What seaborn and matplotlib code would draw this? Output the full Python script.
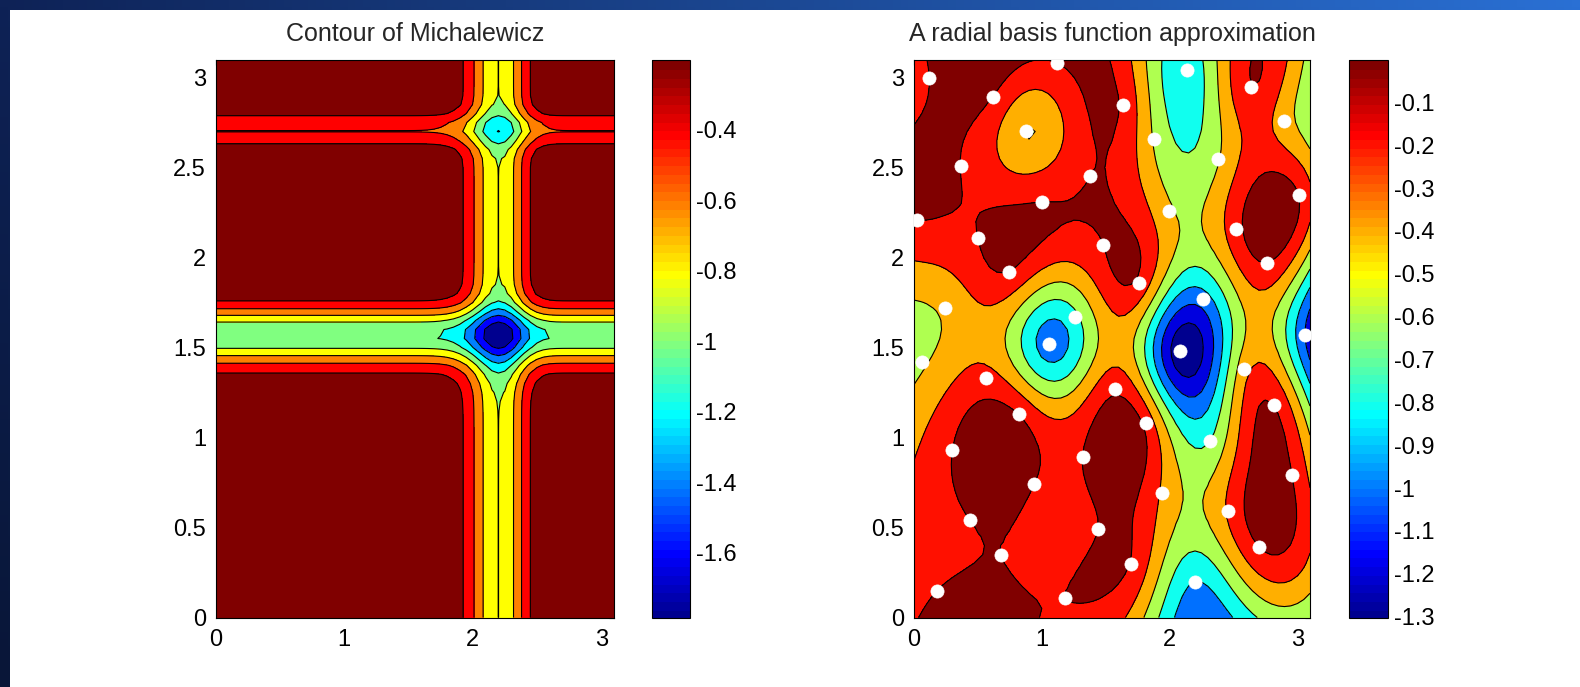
import numpy as np
import matplotlib
matplotlib.use("Agg")
import matplotlib.pyplot as plt
import seaborn as sns
from matplotlib.colors import Normalize, ListedColormap
from matplotlib.cm import ScalarMappable
from matplotlib.patches import Rectangle

sns.set_style("white")
plt.rcParams['font.family'] = ['Liberation Sans', 'DejaVu Sans']
plt.rcParams['axes.unicode_minus'] = False

# ---------------- data ----------------
titles = ["Contour of Michalewicz", "A radial basis function approximation"]
grid_step = 0.05
domain_max = 3.1

# sample sites (white dots)
sample_x = [0.12, 0.62, 1.12, 0.88, 0.37, 1.38, 1.00, 0.02, 0.50, 1.48, 0.74, 0.24, 1.26, 1.06,
            2.14, 2.64, 1.64, 2.90, 1.88, 2.38, 3.01, 2.00, 2.52, 2.76, 1.76, 2.26, 3.06,
            0.06, 0.56, 0.82, 0.30, 1.32, 0.94, 0.44, 1.44, 0.68, 0.18, 1.18,
            2.08, 2.58, 1.57, 2.82, 1.82, 2.32, 2.96, 1.94, 2.46, 2.70, 1.70, 2.20]
sample_y = [3.00, 2.89, 3.08, 2.70, 2.51, 2.45, 2.31, 2.21, 2.11, 2.07, 1.92, 1.72, 1.67, 1.52,
            3.04, 2.95, 2.85, 2.76, 2.66, 2.55, 2.35, 2.26, 2.16, 1.97, 1.86, 1.77, 1.57,
            1.42, 1.33, 1.13, 0.93, 0.89, 0.74, 0.54, 0.49, 0.35, 0.15, 0.11,
            1.48, 1.38, 1.27, 1.18, 1.08, 0.98, 0.79, 0.69, 0.59, 0.39, 0.30, 0.20]

levels_left = [-1.6, -1.4, -1.2, -1.0, -0.8, -0.6, -0.4, -0.2]
levels_right = [-1.2, -1.0, -0.8, -0.6, -0.4, -0.2, 0.0]
cbar_ticks_left = [-0.4, -0.6, -0.8, -1.0, -1.2, -1.4, -1.6]
cbar_ticks_right = [-0.1, -0.2, -0.3, -0.4, -0.5, -0.6, -0.7, -0.8, -0.9, -1.0, -1.1, -1.2, -1.3]
cbar_range_right = (-1.302, 0.0)
axis_xticks = [0, 1, 2, 3]
axis_yticks = [0, 0.5, 1, 1.5, 2, 2.5, 3]
axis_yticklabels = ["0", "0.5", "1", "1.5", "2", "2.5", "3"]


def michalewicz(x, y, m=10):
    return -(np.sin(x) * np.sin(x ** 2 / np.pi) ** (2 * m)
             + np.sin(y) * np.sin(2 * y ** 2 / np.pi) ** (2 * m))


sx = np.array(sample_x)
sy = np.array(sample_y)
sf = michalewicz(sx, sy)

g = np.arange(0, domain_max + 1e-9, grid_step)
GX, GY = np.meshgrid(g, g)
Z1 = michalewicz(GX, GY)

# cubic RBF interpolant with linear tail
n = len(sx)
R = np.hypot(sx[:, None] - sx[None, :], sy[:, None] - sy[None, :])
P = np.column_stack([np.ones(n), sx, sy])
M = np.block([[R ** 3, P], [P.T, np.zeros((3, 3))]])
sol = np.linalg.solve(M, np.concatenate([sf, np.zeros(3)]))
w, c = sol[:n], sol[n:]
RR = np.hypot(GX[..., None] - sx, GY[..., None] - sy)
Z2 = (RR ** 3) @ w + c[0] + c[1] * GX + c[2] * GY


# MATLAB-style jet(64)
def matlab_jet(m=64):
    nq = int(np.ceil(m / 4))
    u = np.concatenate([np.arange(1, nq + 1) / nq, np.ones(nq - 1), np.arange(nq, 0, -1) / nq])
    gi = int(np.ceil(nq / 2)) - (1 if m % 4 == 1 else 0) + np.arange(1, len(u) + 1)
    ri = gi + nq
    bi = gi - nq
    J = np.zeros((m, 3))
    for ch, idx in ((0, ri), (1, gi), (2, bi)):
        ok = (idx >= 1) & (idx <= m)
        J[idx[ok] - 1, ch] = u[ok]
    return ListedColormap(J)


cmap = matlab_jet(64)

# ---------------- figure ----------------
W, H = 1580, 687
fig = plt.figure(figsize=(W / 100, H / 100), dpi=100)

# slide background (blue border top and left)
bg = fig.add_axes([0, 0, 1, 1], zorder=-10)
u = np.linspace(0, 1, 200)[None, :, None]
v = np.linspace(0, 1, 100)[:, None, None]
left_c = np.array([14, 34, 86]) / 255
right_c = np.array([42, 112, 212]) / 255
img = (left_c * (1 - u) + right_c * u) * (1 - 0.35 * v)
bg.imshow(img, extent=[0, 1, 0, 1], aspect='auto', origin='upper')
bg.add_patch(Rectangle((10 / W, 0), 1, 1 - 10 / H, color='white', lw=0))
bg.set_xlim(0, 1); bg.set_ylim(0, 1)
bg.axis('off')

fs = 17


def px_rect(x0, x1, ytop, ybot):
    return [x0 / W, 1 - ybot / H, (x1 - x0) / W, (ybot - ytop) / H]


ax1 = fig.add_axes(px_rect(215.7, 614, 59.5, 617.5))
cax1 = fig.add_axes(px_rect(651.7, 690, 59.5, 617.5))
ax2 = fig.add_axes(px_rect(914, 1310, 59.5, 617.5))
cax2 = fig.add_axes(px_rect(1349, 1388, 59.5, 617.5))


def matlab_contourf(ax, Z, levels, vmin, vmax):
    norm = Normalize(vmin, vmax)
    fill = [min(Z.min(), vmin) - 1] + list(levels) + [Z.max() + 1]
    cols = [cmap(norm(max(l, vmin))) for l in fill[:-1]]
    ax.contourf(GX, GY, Z, levels=fill, colors=cols, antialiased=False)
    ax.contour(GX, GY, Z, levels=levels, colors='k', linewidths=0.8,
               linestyles='solid')
    return norm


def style_axes(ax, title):
    ax.set_xlim(0, domain_max)
    ax.set_ylim(0, domain_max)
    ax.set_xticks(axis_xticks)
    ax.set_xticklabels([str(t) for t in axis_xticks])
    ax.set_yticks(axis_yticks)
    ax.set_yticklabels(axis_yticklabels)
    ax.tick_params(direction='in', length=3.5, width=0.8, top=True, right=True,
                   labelsize=fs, colors='k')
    ax.tick_params(axis='x', pad=8)
    ax.tick_params(axis='y', pad=7)
    for s in ax.spines.values():
        s.set_visible(True)
        s.set_color('k')
        s.set_linewidth(0.8)
    ax.set_title(title, fontsize=fs + 1, pad=13)


def style_cbar(cax, norm, ticks):
    sm = ScalarMappable(norm=norm, cmap=cmap)
    cb = fig.colorbar(sm, cax=cax)
    cb.solids.set_edgecolor("face")
    cb.set_ticks(ticks)
    cb.set_ticklabels([f"{t:g}" for t in ticks])
    cb.outline.set_edgecolor('k')
    cb.outline.set_linewidth(0.8)
    cax.tick_params(direction='in', length=3.5, width=0.8, left=True, right=True,
                    labelsize=fs, colors='k', pad=4)


n1 = matlab_contourf(ax1, Z1, levels_left, Z1.min(), levels_left[-1])
style_axes(ax1, titles[0])
style_cbar(cax1, n1, cbar_ticks_left)

n2 = matlab_contourf(ax2, Z2, levels_right, *cbar_range_right)
sns.scatterplot(x=sx, y=sy, ax=ax2, color='white', s=90, edgecolor='white', linewidth=0.5,
                legend=False, zorder=5, clip_on=True)
style_axes(ax2, titles[1])
style_cbar(cax2, n2, cbar_ticks_right)

fig.savefig("out.png", dpi=100)
